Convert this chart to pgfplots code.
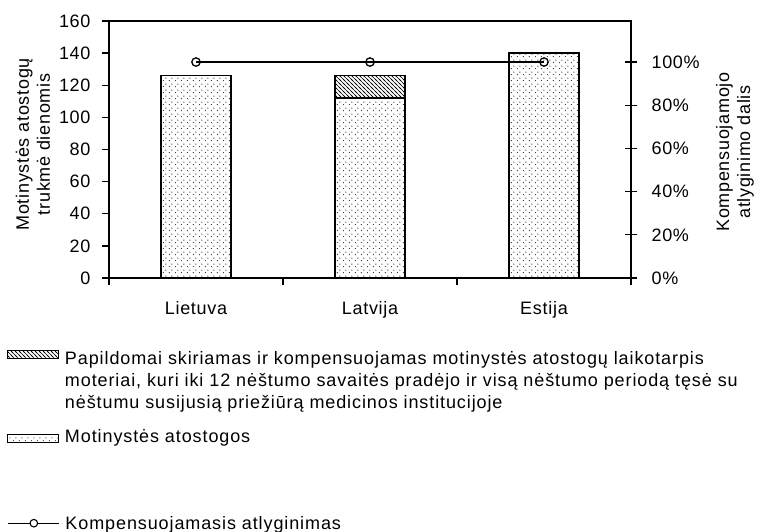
\documentclass[border=0pt]{standalone}
\usepackage{fontspec}
\setmainfont{Liberation Sans}[LetterSpace=4]
\newfontfamily\lgfont{Liberation Sans}[LetterSpace=5]
\usepackage{pgfplots}
\pgfplotsset{compat=1.18}
\usetikzlibrary{patterns}
\pgfdeclarepatternformonly{mydots}{\pgfpointorigin}{\pgfqpoint{6bp}{6bp}}{\pgfqpoint{6bp}{6bp}}{%
  \pgfpathcircle{\pgfqpoint{1.5bp}{1.5bp}}{0.6bp}%
  \pgfpathcircle{\pgfqpoint{4.5bp}{4.5bp}}{0.6bp}%
  \pgfusepath{fill}}
\pgfdeclarepatternformonly{myhatch}{\pgfqpoint{-1bp}{-1bp}}{\pgfqpoint{5bp}{5bp}}{\pgfqpoint{4bp}{4bp}}{%
  \pgfsetlinewidth{0.6bp}%
  \pgfpathmoveto{\pgfqpoint{0bp}{4bp}}\pgfpathlineto{\pgfqpoint{4bp}{0bp}}%
  \pgfpathmoveto{\pgfqpoint{-1bp}{1bp}}\pgfpathlineto{\pgfqpoint{1bp}{-1bp}}%
  \pgfpathmoveto{\pgfqpoint{3bp}{5bp}}\pgfpathlineto{\pgfqpoint{5bp}{3bp}}%
  \pgfusepath{stroke}}
\newcommand{\f}{\fontsize{18bp}{21bp}\selectfont}
\newcommand{\lf}{\lgfont\fontsize{18bp}{22bp}\selectfont}
\pgfplotsset{
  base/.style={scale only axis, width=522bp, height=257bp,
    at={(109bp,-278bp)}, anchor=south west, xmin=-0.5, xmax=2.5},
  leg/.style={legend style={at={(-0.1954,#1)}, anchor=north west, draw=none, fill=none,
    inner sep=0pt, row sep=0pt, column sep=4bp, font=\lf,
    cells={anchor=base west, inner sep=0pt}}},
}
\begin{document}
\begin{tikzpicture}
\path[use as bounding box] (0,0) rectangle (757bp,-532bp);
\begin{axis}[
  base, ymin=0, ymax=160,
  ytick={0,20,...,160},
  xtick={-0.5,0.5,1.5,2.5}, xticklabels={},
  extra x ticks={0,1,2}, extra x tick labels={Lietuva,Latvija,Estija},
  extra x tick style={major tick length=0pt, tick label style={yshift=-20bp}},
  tick pos=left, tick align=outside, major tick length=7bp,
  axis line style={line width=1.3bp}, every tick/.style={black, line width=1.3bp},
  tick label style={font=\f},
  yticklabel style={xshift=-8bp},
  /pgf/number format/assume math mode=true,
  every axis y label/.style={at={(axis description cs:-0.1456,0.52)}, rotate=90, anchor=center, align=center, font=\f},
  ylabel={Motinystės atostogų\\trukmė dienomis},
  ybar stacked, bar width=70bp,
  leg=-0.5759,
]
\addplot[forget plot, draw=black, line width=1.3bp, pattern=mydots, pattern color=black]
  coordinates {(0,126) (1,112) (2,140)};
\addplot[forget plot, draw=black, line width=1.3bp, pattern=myhatch, pattern color=black]
  coordinates {(0,0) (1,14) (2,0)};
\addlegendimage{legend image code/.code={\draw[pattern=mydots, draw=black, line width=0.8bp] (0bp,0bp) rectangle (51bp,8bp);}}
\addlegendentry{\rule{0pt}{14bp}Motinystės atostogos}
\end{axis}
\begin{axis}[
  base, hide axis, ymin=0, ymax=1,
  leg=-0.2724,
]
\addlegendimage{legend image code/.code={\draw[pattern=myhatch, draw=black, line width=0.8bp] (0bp,6bp) rectangle (51bp,14bp);}}
\addlegendentry{\parbox[t]{720bp}{\lf\rule{0pt}{14bp}Papildomai skiriamas ir kompensuojamas motinystės atostogų laikotarpis\\moteriai, kuri iki 12 nėštumo savaitės pradėjo ir visą nėštumo periodą tęsė su\\nėštumu susijusią priežiūrą medicinos institucijoje}}
\end{axis}
\begin{axis}[
  base, ymin=0, ymax=1.19,
  axis x line=none, axis y line*=right,
  ytick={0,0.2,0.4,0.6,0.8,1},
  yticklabels={0\%,20\%,40\%,60\%,80\%,100\%},
  tick align=center, major tick length=12bp,
  axis line style={line width=1.3bp}, every tick/.style={black, line width=1.3bp},
  tick label style={font=\f},
  yticklabel style={xshift=11bp},
  every axis y label/.style={at={(axis description cs:1.199,0.49)}, rotate=90, anchor=center, align=center, font=\f},
  ylabel={Kompensuojamojo\\atlyginimo dalis},
  clip=false,
  leg=-0.9144,
]
\addplot[forget plot, black, line width=1.5bp, mark=o, mark size=4.2bp, mark options={fill=white, line width=1.3bp}]
  coordinates {(0,1) (1,1) (2,1)};
\addlegendimage{legend image code/.code={\draw[black, line width=1.3bp] (0bp,6bp) -- (51bp,6bp); \draw[black, line width=1.1bp, fill=white] (26bp,6bp) circle (3.8bp);}}
\addlegendentry{\rule{0pt}{14bp}Kompensuojamasis atlyginimas}
\end{axis}
\end{tikzpicture}
\end{document}
